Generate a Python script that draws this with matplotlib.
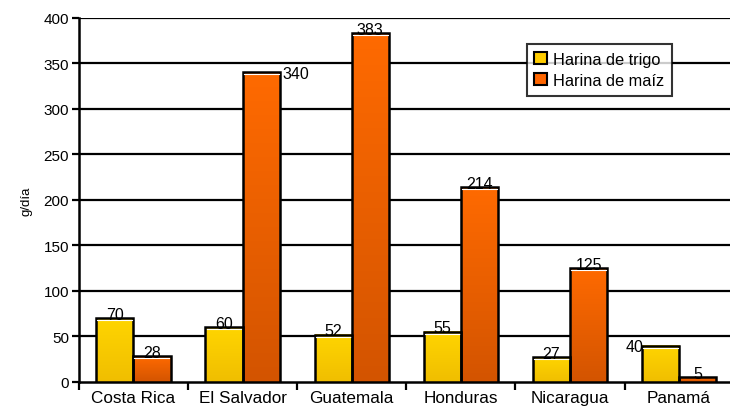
import numpy as np
import matplotlib
matplotlib.use("Agg")
import matplotlib.pyplot as plt
from matplotlib.colors import LinearSegmentedColormap
from matplotlib.patches import Patch

categories = ["Costa Rica", "El Salvador", "Guatemala", "Honduras", "Nicaragua", "Panamá"]
trigo = [70, 60, 52, 55, 27, 40]
maiz = [28, 340, 383, 214, 125, 5]
series_names = ["Harina de trigo", "Harina de maíz"]
y_ticks = [0, 50, 100, 150, 200, 250, 300, 350, 400]
ylabel = "g/día"

plt.rcParams['font.family'] = ['Liberation Sans', 'DejaVu Sans']

fig = plt.figure(figsize=(7.3, 4.1), dpi=100)
ax = fig.add_axes([0.108, 0.066, 0.897, 0.888])

n = len(categories)
ax.set_xlim(0, n)
ax.set_ylim(0, 400)

bw = 0.34
cmap_y = LinearSegmentedColormap.from_list("y", ["#F0BE00", "#FFD500"])
cmap_o = LinearSegmentedColormap.from_list("o", ["#D35400", "#FF6A00"])
grad = np.linspace(0, 1, 256).reshape(-1, 1)

for gl in y_ticks[1:]:
    ax.axhline(gl, color="black", lw=1.6, zorder=1)

x = np.arange(n) + 0.5
series = [(trigo, cmap_y, x - bw / 2), (maiz, cmap_o, x + bw / 2)]
for vals, cm, xs in series:
    for xc, v in zip(xs, vals):
        x0, x1 = xc - bw / 2, xc + bw / 2
        ax.imshow(grad, extent=[x0, x1, 0, v], origin="lower", aspect="auto",
                  cmap=cm, zorder=2, interpolation="bilinear")
        ax.plot([x0, x0, x1, x1], [0, v, v, 0], color="black", lw=1.8, zorder=3,
                solid_joinstyle="miter")
        if v > 8:
            ax.plot([x0 + 0.01, x1 - 0.01], [v - 2.2, v - 2.2], color="white", lw=0.8, zorder=3)
ax.set_xlim(0, n)
ax.set_ylim(0, 400)

# value labels
special = {(1, 1): "right", (0, 5): "left"}
for si, (vals, cm, xs) in enumerate(series):
    for ci, (xc, v) in enumerate(zip(xs, vals)):
        mode = special.get((si, ci))
        if mode == "right":
            ax.annotate(str(v), (xc + bw / 2, v), xytext=(2, -1), textcoords="offset points",
                        ha="left", va="center", fontsize=11.5, zorder=5)
        elif mode == "left":
            ax.annotate(str(v), (xc - bw / 2, v), xytext=(1, -1), textcoords="offset points",
                        ha="right", va="center", fontsize=11.5, zorder=5)
        else:
            ax.annotate(str(v), (xc, v), xytext=(0, -2.5), textcoords="offset points",
                        ha="center", va="bottom", fontsize=11.5, zorder=5)

for s in ["top", "right"]:
    ax.spines[s].set_visible(False)
for s in ["left", "bottom"]:
    ax.spines[s].set_linewidth(1.8)
    ax.spines[s].set_zorder(4)

ax.set_yticks(y_ticks)
ax.tick_params(axis="y", length=5, width=1.6, labelsize=11, pad=2)
ax.set_xticks(np.arange(n + 1))
ax.set_xticklabels([])
ax.tick_params(axis="x", which="major", length=6, width=1.6)
ax.set_xticks(x, minor=True)
ax.set_xticklabels(categories, minor=True, fontsize=12.3)
ax.tick_params(axis="x", which="minor", length=0, pad=6)
ax.set_ylabel(ylabel, fontsize=9.5, labelpad=8)

handles = [Patch(facecolor="#FFCC00", edgecolor="black", lw=1.5),
           Patch(facecolor="#FF6600", edgecolor="black", lw=1.5)]
leg = ax.legend(handles, series_names, loc="upper left", bbox_to_anchor=(0.672, 0.95),
                fontsize=11.8, frameon=True, fancybox=False, handlelength=0.75,
                handleheight=0.75, handletextpad=0.4, borderpad=0.45, labelspacing=0.4)
leg.get_frame().set_edgecolor("black")
leg.get_frame().set_linewidth(1.5)
leg.set_zorder(6)

fig.savefig("out.png", dpi=100)
